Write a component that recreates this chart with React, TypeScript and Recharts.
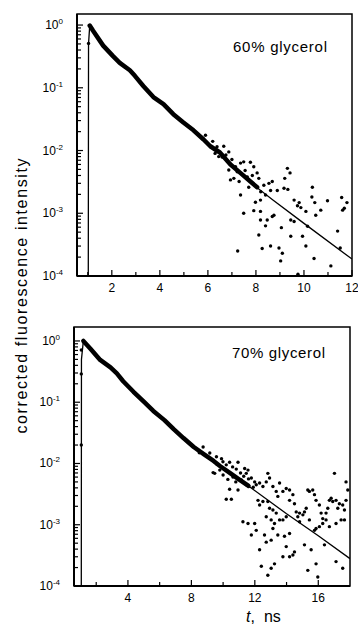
import React from "react";
import { ComposedChart, Line, Scatter, XAxis, YAxis, ReferenceArea } from "recharts";

// time (ns), intensity pairs

// 60% glycerol: dense part of the decay
const band60: [number, number][] = [
  [1.08, 0.98], [1.22, 0.81], [1.64, 0.47], [2.05, 0.32], [2.33, 0.25], [2.75, 0.19],
  [2.96, 0.155], [3.31, 0.107], [3.73, 0.071], [4.15, 0.055], [4.56, 0.038], [4.98, 0.028],
  [5.4, 0.021], [5.82, 0.015], [6.1, 0.0117], [6.5, 0.0093], [6.94, 0.006], [7.35, 0.0044],
  [7.77, 0.0032], [8.05, 0.0026],
];

// 60% glycerol: fitted curve
const fit60: [number, number][] = [
  [1.02, 1e-4], [1.03, 0.5], [1.08, 0.98], [1.22, 0.81], [1.64, 0.47], [2.05, 0.32],
  [2.33, 0.25], [2.75, 0.19], [2.96, 0.155], [3.31, 0.107], [3.73, 0.071], [4.15, 0.055],
  [4.56, 0.038], [4.98, 0.028], [5.4, 0.021], [5.82, 0.015], [6.1, 0.0117], [6.5, 0.0093],
  [6.94, 0.006], [7.35, 0.0044], [7.77, 0.0031], [8.68, 0.00166], [10, 0.00069], [12, 0.000186],
];

// 60% glycerol: separate points
const dots60: [number, number][] = [
  [1.03, 0.51],
  [5.9, 1.75e-2], [6.2, 1.4e-2], [6.3, 9.0e-3], [6.45, 8.0e-3], [6.75, 8.5e-3], [7.0, 7.2e-3],
  [7.15, 5.5e-3], [7.3, 3.2e-3], [7.55, 4.8e-3], [7.7, 2.6e-3], [7.85, 4.0e-3], [8.2, 2.2e-3],
  [6.38, 1.15e-2], [6.66, 1.17e-2], [6.87, 9.5e-3], [6.59, 7.9e-3], [6.94, 3.4e-3], [7.08, 3.6e-3],
  [7.64, 3.8e-3], [6.87, 4.9e-3], [7.22, 4.6e-3], [8.05, 4.4e-3], [8.61, 2.3e-3], [8.4, 1.95e-3],
  [8.19, 1.62e-3], [7.98, 1.5e-3],
  [7.49, 6.6e-3], [7.77, 6.5e-3], [7.36, 6.3e-3], [7.91, 5.5e-3], [8.12, 3.6e-3], [8.33, 2.8e-3],
  [8.54, 3.0e-3], [8.68, 3.2e-3], [8.89, 2.3e-3], [9.17, 2.5e-3], [9.33, 2.4e-3], [9.31, 5.2e-3],
  [9.42, 4.4e-3], [9.2, 3.6e-3], [7.36, 1.95e-3], [7.49, 1.0e-3], [7.91, 1.1e-3], [8.19, 1.07e-3],
  [8.19, 7.8e-4], [8.4, 6.3e-4], [8.47, 7.8e-4], [8.68, 8.9e-4], [8.75, 9.3e-4], [8.12, 4.5e-4],
  [8.26, 2.75e-4], [8.61, 3.0e-4], [8.96, 2.8e-4], [9.1, 2.3e-4], [9.03, 1.74e-4], [9.45, 4.3e-4],
  [9.06, 5.9e-4], [9.45, 7.8e-4], [9.59, 1.62e-3], [9.73, 1.32e-3], [9.87, 1.23e-3], [9.8, 1.48e-3],
  [10.08, 1.07e-3], [9.94, 4.3e-4], [10.15, 6.2e-4], [10.08, 3.0e-4], [10.35, 2.6e-3], [10.45, 1.48e-3],
  [10.33, 1.82e-3], [10.49, 9.3e-4], [10.42, 1.9e-4], [10.7, 1.12e-3], [10.98, 1.58e-3], [11.12, 1.45e-4],
  [11.4, 5.2e-4], [11.51, 2.8e-4], [11.61, 1.12e-3], [11.68, 1.2e-3], [11.57, 1.78e-3], [11.79, 1.48e-3],
  [9.75, 1.07e-4], [7.24, 2.5e-4], [9.59, 7.4e-4],
];

// 70% glycerol: dense part of the decay
const band70: [number, number][] = [
  [1.19, 1.0], [1.65, 0.74], [2.25, 0.49], [2.9, 0.37], [3.3, 0.295], [3.7, 0.22], [4.35, 0.148],
  [5.0, 0.102], [5.6, 0.072], [6.3, 0.051], [6.9, 0.036], [7.5, 0.026], [8.15, 0.0186],
  [8.8, 0.0141], [9.4, 0.011], [9.8, 0.0091], [10.4, 0.0071], [11.0, 0.0055], [11.6, 0.0043],
];

// 70% glycerol: fitted curve
const fit70: [number, number][] = [
  [1.06, 1e-4], [1.07, 0.5], [1.19, 1.0], [1.65, 0.74], [2.25, 0.49], [2.9, 0.37], [3.3, 0.295],
  [3.7, 0.22], [4.35, 0.148], [5.0, 0.102], [5.6, 0.072], [6.3, 0.051], [6.9, 0.036], [7.5, 0.026],
  [8.15, 0.0186], [8.8, 0.0141], [9.4, 0.011], [9.8, 0.0091], [10.4, 0.0071], [11.0, 0.0055],
  [11.6, 0.0043], [14, 0.00151], [16, 0.00066], [18, 0.00028],
];

// 70% glycerol: separate points
const dots70: [number, number][] = [
  [1.06, 0.71], [1.06, 0.29], [1.06, 0.02],
  [9.6, 9.8e-3], [9.9, 1.2e-2], [10.0, 6.5e-3], [10.2, 9.5e-3], [10.3, 5.5e-3], [10.6, 8.8e-3],
  [10.8, 5.0e-3], [11.1, 7.0e-3], [11.3, 6.2e-3], [11.6, 5.6e-3], [11.9, 4.1e-3], [8.5, 1.5e-2],
  [8.74, 1.86e-2], [9.16, 1.48e-2], [9.58, 1.29e-2], [9.99, 1.07e-2], [10.41, 1.05e-2], [10.83, 8.1e-3],
  [10.62, 6.0e-3], [11.15, 5.4e-3], [9.79, 7.8e-3], [11.46, 4.5e-3], [10.94, 1.05e-2], [9.47, 6.9e-3],
  [9.37, 7.1e-3], [10.41, 3.8e-3], [10.2, 2.6e-3], [10.52, 2.6e-3], [10.94, 3.7e-3], [11.36, 8.3e-3],
  [11.46, 6.9e-3], [11.57, 7.8e-3], [11.78, 5.8e-3], [11.99, 5.0e-3], [12.09, 4.5e-3], [12.3, 4.8e-3],
  [12.51, 4.2e-3], [12.72, 5.0e-3], [12.82, 6.9e-3], [12.93, 5.8e-3], [13.14, 4.2e-3], [13.35, 3.5e-3],
  [13.56, 4.8e-3], [13.45, 2.9e-3], [13.77, 3.5e-3], [13.98, 3.9e-3], [14.19, 3.7e-3], [14.4, 3.1e-3],
  [14.5, 2.2e-3], [14.19, 2.5e-3], [14.61, 1.62e-3], [14.82, 1.55e-3], [15.03, 1.45e-3], [15.13, 1.62e-3],
  [15.24, 1.86e-3], [15.34, 3.7e-3], [15.44, 3.5e-3], [15.65, 3.7e-3], [15.76, 3.1e-3], [15.86, 2.5e-3],
  [16.07, 2.1e-3], [16.18, 1.55e-3], [16.28, 1.26e-3], [16.49, 1.55e-3], [16.6, 1.86e-3], [16.7, 2.5e-3],
  [16.81, 2.7e-3], [16.91, 2.4e-3], [17.12, 2.5e-3], [17.02, 6.9e-3], [17.23, 1.86e-3], [17.33, 2.2e-3],
  [17.54, 2.1e-3], [17.65, 1.74e-3], [17.75, 2.5e-3], [17.86, 3.7e-3], [17.75, 5.0e-3], [17.44, 1.2e-3],
  [17.65, 1.2e-3], [17.12, 1.05e-3], [16.49, 1.2e-3], [16.28, 1.05e-3], [15.86, 8.7e-4], [16.07, 9.3e-4],
  [15.76, 8.1e-4], [15.44, 1.2e-3], [14.82, 1.12e-3], [14.71, 1.35e-3], [13.98, 1.35e-3], [13.77, 1.2e-3],
  [13.56, 1.2e-3], [13.35, 1.55e-3], [13.14, 1.74e-3], [12.93, 1.86e-3], [12.82, 2.4e-3], [12.51, 2.4e-3],
  [12.3, 2.1e-3], [12.2, 2.5e-3], [12.72, 1.35e-3], [13.03, 1.2e-3], [13.24, 1.05e-3], [13.14, 8.7e-4],
  [11.25, 1.12e-3], [11.57, 1.05e-3], [11.99, 1.05e-3], [11.78, 6.8e-4], [12.09, 8.1e-4], [12.3, 3.9e-4],
  [12.61, 6.8e-4], [12.72, 5.2e-4], [13.03, 5.6e-4], [13.45, 6.8e-4], [13.87, 6.5e-4], [14.19, 7.2e-4],
  [13.98, 4.4e-4], [14.5, 3.6e-4], [14.4, 3.2e-4], [14.19, 3.0e-4], [13.24, 2.3e-4], [13.03, 1.95e-4],
  [12.41, 2.1e-4], [12.82, 1.5e-4], [13.77, 3.0e-4], [15.13, 4.7e-4], [15.55, 3.9e-4], [15.86, 2.3e-4],
  [16.39, 4.7e-4], [17.12, 2.5e-4], [17.54, 1.95e-4], [15.97, 1.4e-4], [15.34, 1.8e-4], [16.7, 9.3e-4],
];

const decades = [1e-4, 1e-3, 1e-2, 1e-1, 1];
const minorSteps = [2, 3, 4, 5, 6, 7, 8, 9];
const yTicks = decades.flatMap((d) => (d === 1 ? [d] : [d, ...minorSteps.map((m) => m * d)]));

const xMajor60 = [2, 4, 6, 8, 10, 12];
const xMinor60 = [1, 3, 5, 7, 9, 11];
const xMajor70 = [4, 8, 12, 16];
const xMinor70 = [2, 6, 10, 14];

const FONT = "'Liberation Sans', Arial, sans-serif";

const toPts = (arr: [number, number][]) => arr.map(([t, v]) => ({ t, v }));

const YTick = (props: any) => {
  const { x, y, payload } = props;
  const lg = Math.log10(payload.value);
  const exp = Math.round(lg);
  const major = Math.abs(lg - exp) < 1e-6;
  return (
    <g>
      <line x1={x} x2={x + (major ? 6 : 4)} y1={y} y2={y} stroke="#000" strokeWidth={1.2} />
      {major && (
        <text x={x - 14} y={y + 4} textAnchor="end" fontSize={12} fontFamily={FONT} fill="#000">
          10
          <tspan dy={-5} fontSize={8}>
            {exp}
          </tspan>
        </text>
      )}
    </g>
  );
};

const makeXTick = (majors: number[]) => (props: any) => {
  const { x, y, payload } = props;
  const major = majors.includes(payload.value);
  return (
    <g>
      <line x1={x} x2={x} y1={y} y2={y - (major ? 6 : 4)} stroke="#000" strokeWidth={1.2} />
      {major && (
        <text x={x} y={y + 16} textAnchor="middle" fontSize={12} fontFamily={FONT} fill="#000">
          {payload.value}
        </text>
      )}
    </g>
  );
};

const dotShape = (p: any) => <circle cx={p.cx} cy={p.cy} r={1.7} fill="#000" />;

interface PanelProps {
  top: number;
  band: [number, number][];
  fit: [number, number][];
  dots: [number, number][];
  xDomain: [number, number];
  yTop: number;
  majors: number[];
  minors: number[];
  yAxisWidth: number;
  marginTop: number;
  marginRight: number;
}

const Panel: React.FC<PanelProps> = (p) => {
  const xTicks = [...p.majors, ...p.minors].sort((a, b) => a - b);
  return (
    <div style={{ position: "absolute", left: 0, top: p.top }}>
      <ComposedChart
        width={358}
        height={300}
        margin={{ top: p.marginTop, right: p.marginRight, bottom: 4, left: 0 }}
      >
        <XAxis
          dataKey="t"
          type="number"
          domain={p.xDomain}
          ticks={xTicks}
          interval={0}
          allowDataOverflow
          height={20}
          tickSize={0}
          tickMargin={0}
          tickLine={false}
          axisLine={{ stroke: "#000", strokeWidth: 2 }}
          tick={makeXTick(p.majors)}
        />
        <YAxis
          dataKey="v"
          type="number"
          scale="log"
          domain={[1e-4, p.yTop]}
          ticks={yTicks}
          interval={0}
          allowDataOverflow
          width={p.yAxisWidth}
          tickSize={0}
          tickMargin={0}
          tickLine={false}
          axisLine={{ stroke: "#000", strokeWidth: 2 }}
          tick={YTick}
        />
        <ReferenceArea
          x1={p.xDomain[0]}
          x2={p.xDomain[1]}
          y1={1e-4}
          y2={p.yTop}
          fill="none"
          stroke="#000"
          strokeWidth={1.5}
          ifOverflow="visible"
        />
        <Line
          data={toPts(p.fit)}
          dataKey="v"
          type="linear"
          stroke="#000"
          strokeWidth={1.3}
          dot={false}
          isAnimationActive={false}
        />
        <Line
          data={toPts(p.band)}
          dataKey="v"
          type="linear"
          stroke="#000"
          strokeWidth={4.5}
          strokeLinejoin="round"
          strokeLinecap="round"
          dot={false}
          isAnimationActive={false}
        />
        <Scatter data={toPts(p.dots)} dataKey="v" shape={dotShape} isAnimationActive={false} />
      </ComposedChart>
    </div>
  );
};

export default function App() {
  return (
    <div style={{ position: "absolute", left: 0, top: 0, width: 358, height: 635, background: "#fff" }}>
      <Panel
        top={0}
        band={band60}
        fit={fit60}
        dots={dots60}
        xDomain={[0.55, 12]}
        yTop={1.5}
        majors={xMajor60}
        minors={xMinor60}
        yAxisWidth={77}
        marginTop={14}
        marginRight={6}
      />
      <Panel
        top={310}
        band={band70}
        fit={fit70}
        dots={dots70}
        xDomain={[0.6, 18]}
        yTop={1.69}
        majors={xMajor70}
        minors={xMinor70}
        yAxisWidth={74}
        marginTop={17}
        marginRight={8}
      />
      <svg
        width={358}
        height={635}
        style={{ position: "absolute", left: 0, top: 0, pointerEvents: "none" }}
      >
        <text x={233} y={52} fontSize={15} fontFamily={FONT} textLength={94} lengthAdjust="spacing">
          60% glycerol
        </text>
        <text x={232} y={358} fontSize={15} fontFamily={FONT} textLength={93} lengthAdjust="spacing">
          70% glycerol
        </text>
        <text
          x={0}
          y={0}
          transform="translate(27 296) rotate(-90)"
          textAnchor="middle"
          fontSize={16}
          fontFamily={FONT}
          textLength={275}
          lengthAdjust="spacing"
        >
          corrected fluorescence intensity
        </text>
        <text x={246} y={622} fontSize={16} fontFamily={FONT}>
          <tspan fontStyle="italic">t</tspan>
          <tspan>,</tspan>
          <tspan dx={9}>ns</tspan>
        </text>
      </svg>
    </div>
  );
}
